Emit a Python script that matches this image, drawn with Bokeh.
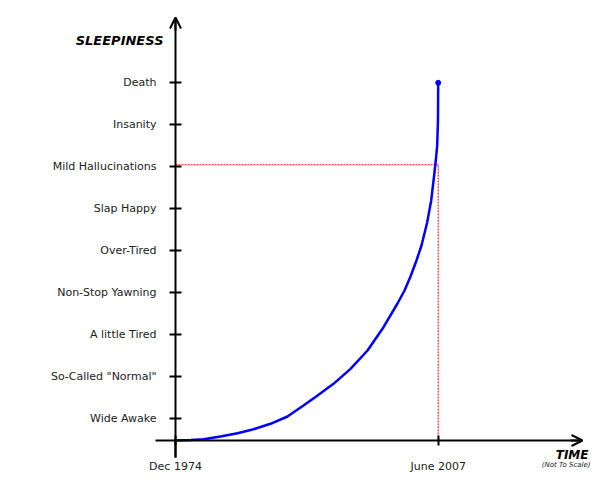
from bokeh.plotting import figure
from bokeh.models import FixedTicker, Range1d, Label, Arrow, OpenHead
from bokeh.embed import file_html
from bokeh.resources import INLINE

# ---- data ----
levels = [1, 2, 3, 4, 5, 6, 7, 8, 9]
level_names = ["Wide Awake", "So-Called \"Normal\"", "A little Tired", "Non-Stop Yawning",
               "Over-Tired", "Slap Happy", "Mild Hallucinations", "Insanity", "Death"]
time_ticks = [1974.917, 2007.417]
time_names = ["Dec 1974", "June 2007"]

curve_x = [1974.917, 1976.77, 1978.38, 1980.48, 1982.59, 1984.57, 1986.67, 1988.77,
           1990.75, 1992.49, 1994.46, 1996.57, 1998.67, 2000.65, 2002.38, 2003.25,
           2003.99, 2004.73, 2005.35, 2006.05, 2006.55, 2006.87, 2007.12, 2007.29,
           2007.39, 2007.417]
curve_y = [0.483, 0.495, 0.514, 0.579, 0.657, 0.752, 0.881, 1.055,
           1.317, 1.555, 1.833, 2.190, 2.626, 3.181, 3.745, 4.055,
           4.388, 4.769, 5.126, 5.674, 6.198, 6.721, 7.150, 7.507,
           8.102, 9.0]
hallucination_level = 7.048
origin_level = 0.483

# ---- layout helpers (pixel -> data) ----
W, H = 594, 482
PX0, PY1, PYW = 175.0, 418.3, 42.0      # origin x pixel, pixel of level 1, pixels per level
sx = (time_ticks[1] - time_ticks[0]) / 262.7
sy = 1.0 / PYW
x0 = time_ticks[0]

def dx(px):
    return x0 + (px - PX0) * sx

def dy(py):
    return 1 + (PY1 - py) * sy

p = figure(width=W, height=H, output_backend="svg", toolbar_location=None,
           x_range=Range1d(dx(0), dx(W)), y_range=Range1d(dy(H), dy(0)))
p.min_border = 0
p.min_border_left = 0
p.min_border_right = 0
p.min_border_top = 0
p.min_border_bottom = 0
p.outline_line_color = None
p.xgrid.visible = False
p.ygrid.visible = False
p.background_fill_color = "white"
p.border_fill_color = "white"

FONT = "DejaVu Sans"

# y axis (sleepiness)
ya = p.yaxis[0]
ya.fixed_location = x0
ya.bounds = (dy(457), dy(18))
ya.ticker = FixedTicker(ticks=levels, minor_ticks=[])
ya.major_label_overrides = {lv: nm for lv, nm in zip(levels, level_names)}
ya.axis_line_width = 2
ya.axis_line_color = "black"
ya.major_tick_line_width = 2
ya.major_tick_in = 6
ya.major_tick_out = 6
ya.minor_tick_line_color = None
ya.major_label_standoff = 13
ya.major_label_text_font = FONT
ya.major_label_text_font_size = "11px"
ya.major_label_text_color = "#222222"

# x axis (time)
xa = p.xaxis[0]
xa.fixed_location = origin_level
xa.bounds = (dx(155), dx(580))
xa.ticker = FixedTicker(ticks=time_ticks, minor_ticks=[x0])
xa.major_label_overrides = {t: n for t, n in zip(time_ticks, time_names)}
xa.axis_line_width = 2
xa.axis_line_color = "black"
xa.major_tick_line_width = 2
xa.major_tick_in = 5
xa.major_tick_out = 5
xa.minor_tick_line_color = "black"
xa.minor_tick_line_width = 2
xa.minor_tick_in = 0
xa.minor_tick_out = 17
xa.major_label_standoff = 2
xa.major_label_text_font = FONT
xa.major_label_text_font_size = "11px"
xa.major_label_text_color = "#222222"

# reference lines
p.line([x0, time_ticks[1]], [hallucination_level, hallucination_level],
       line_color="red", line_width=1, line_dash="2 1")
p.line([time_ticks[1], time_ticks[1]], [origin_level, hallucination_level],
       line_color="red", line_width=1, line_dash="2 1")

# curve
p.line(curve_x, curve_y, line_color="#0000ff", line_width=2.5)
p.scatter([curve_x[-1]], [curve_y[-1]], size=5, color="#0000ff")

# arrow heads
p.add_layout(Arrow(end=OpenHead(size=11, line_width=2, line_color="black"),
                   x_start=x0, y_start=dy(30), x_end=x0, y_end=dy(17),
                   line_width=2, line_color="black"))
p.add_layout(Arrow(end=OpenHead(size=11, line_width=2, line_color="black"),
                   x_start=dx(570), y_start=origin_level, x_end=dx(582), y_end=origin_level,
                   line_width=2, line_color="black"))

p.add_layout(Label(x=dx(163), y=dy(40), text="SLEEPINESS", text_align="right",
                   text_baseline="middle", text_font=FONT, text_font_style="bold italic",
                   text_font_size="13px", text_color="black"))
p.add_layout(Label(x=dx(588), y=dy(454), text="TIME", text_align="right",
                   text_baseline="middle", text_font=FONT, text_font_style="bold italic",
                   text_font_size="12px", text_color="black"))
p.add_layout(Label(x=dx(590), y=dy(464), text="(Not To Scale)", text_align="right",
                   text_baseline="middle", text_font=FONT, text_font_style="italic",
                   text_font_size="7px", text_color="#222222"))

open("out.html", "w").write(file_html(p, INLINE))
